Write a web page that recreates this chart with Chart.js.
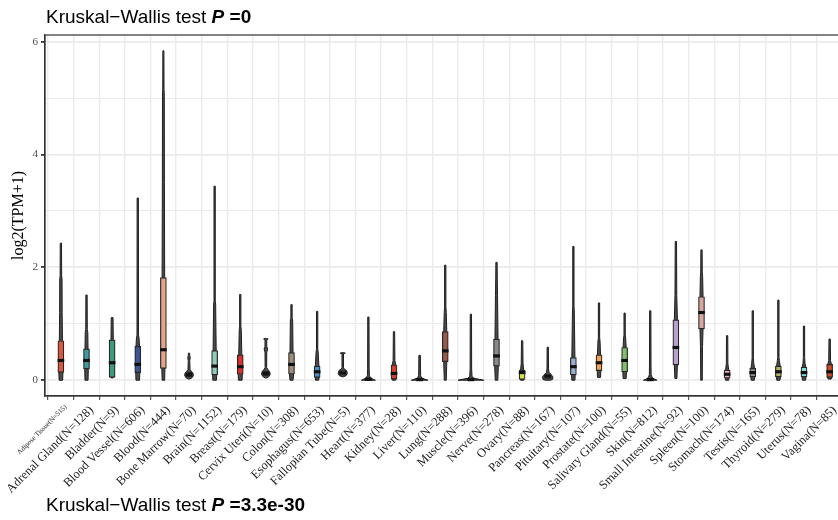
<!DOCTYPE html>
<html><head><meta charset="utf-8">
<script src="https://cdn.jsdelivr.net/npm/chart.js@4/dist/chart.umd.min.js"></script>
<style>html,body{margin:0;padding:0;overflow:hidden;background:#fff}
#c{position:absolute;left:0;top:0}</style></head>
<body><canvas id="c" width="846" height="520"></canvas>
<script>
const tissues = ["Adipose Tissue","Adrenal Gland","Bladder","Blood Vessel","Blood","Bone Marrow","Brain","Breast","Cervix Uteri","Colon","Esophagus","Fallopian Tube","Heart","Kidney","Liver","Lung","Muscle","Nerve","Ovary","Pancreas","Pituitary","Prostate","Salivary Gland","Skin","Small Intestine","Spleen","Stomach","Testis","Thyroid","Uterus","Vagina"];
const counts = [515,128,9,606,444,70,1152,179,10,308,653,5,377,28,110,288,396,278,88,167,107,100,55,812,92,100,174,165,279,78,85];
const q1 =     [0.14,0.20,0.05,0.135,0.21,0.06,0.094,0.105,0.08,0.11,0.05,0.09,0.0,0.02,0.0,0.33,0.0,0.25,0.0,0.03,0.094,0.17,0.15,0.0,0.27,0.91,0.035,0.06,0.06,0.06,0.05];
const median = [0.35,0.35,0.31,0.28,0.54,0.10,0.25,0.24,0.12,0.28,0.15,0.13,0.015,0.12,0.01,0.52,0.01,0.43,0.135,0.07,0.24,0.31,0.35,0.01,0.58,1.20,0.105,0.135,0.15,0.135,0.15];
const q3 =     [0.70,0.555,0.715,0.60,1.82,0.14,0.525,0.45,0.16,0.49,0.25,0.17,0.04,0.27,0.03,0.86,0.03,0.73,0.18,0.11,0.40,0.45,0.58,0.03,1.07,1.48,0.18,0.21,0.25,0.23,0.28];
// violin density outlines: [log2(TPM+1) value, half width in category units]
const violins = [
 [[0,0.07],[0.15,0.08],[0.7,0.06],[1.2,0.05],[1.8,0.045],[1.85,0.03],[2.43,0.025]],
 [[0,0.06],[0.2,0.07],[0.55,0.06],[0.85,0.05],[0.9,0.03],[1.51,0.025]],
 [[0.04,0.04],[0.72,0.045],[1.11,0.035]],
 [[0,0.07],[0.14,0.08],[0.6,0.07],[0.75,0.05],[0.8,0.03],[3.23,0.025]],
 [[0,0.05],[0.21,0.06],[1.82,0.05],[3.5,0.04],[5.1,0.035],[5.15,0.025],[5.84,0.02]],
 [[0.02,0.02],[0.04,0.11],[0.08,0.17],[0.12,0.16],[0.16,0.09],[0.19,0.04],[0.35,0.03],[0.4,0.05],[0.43,0.03],[0.48,0.025]],
 [[0,0.07],[0.1,0.08],[0.52,0.06],[1.35,0.04],[1.4,0.025],[3.44,0.025]],
 [[0,0.07],[0.1,0.08],[0.45,0.06],[0.9,0.04],[0.95,0.025],[1.52,0.025]],
 [[0.04,0.02],[0.06,0.11],[0.1,0.17],[0.15,0.15],[0.19,0.08],[0.22,0.03],[0.5,0.035],[0.55,0.07],[0.6,0.035],[0.72,0.035],[0.73,0.09],[0.74,0.02]],
 [[0,0.06],[0.11,0.08],[0.49,0.06],[1.07,0.045],[1.1,0.025],[1.34,0.025]],
 [[0,0.06],[0.05,0.08],[0.25,0.07],[0.5,0.04],[0.55,0.025],[1.22,0.025]],
 [[0.06,0.02],[0.08,0.13],[0.12,0.18],[0.17,0.15],[0.2,0.06],[0.22,0.03],[0.47,0.03],[0.48,0.1],[0.49,0.02]],
 [[0,0.27],[0.015,0.2],[0.04,0.09],[0.08,0.04],[0.2,0.03],[1.12,0.025]],
 [[0,0.06],[0.02,0.08],[0.27,0.07],[0.35,0.035],[0.86,0.025]],
 [[0,0.32],[0.015,0.22],[0.04,0.08],[0.08,0.04],[0.2,0.035],[0.44,0.03]],
 [[0,0.04],[0.33,0.06],[0.86,0.06],[1.2,0.04],[1.3,0.025],[2.04,0.025]],
 [[0,0.5],[0.015,0.34],[0.035,0.12],[0.07,0.045],[0.2,0.03],[1.17,0.025]],
 [[0,0.05],[0.25,0.07],[0.73,0.06],[1.5,0.04],[1.81,0.03],[2.09,0.025]],
 [[0,0.06],[0.18,0.06],[0.3,0.035],[0.7,0.025]],
 [[0,0.1],[0.015,0.19],[0.06,0.2],[0.1,0.13],[0.14,0.05],[0.2,0.03],[0.585,0.025]],
 [[0,0.06],[0.09,0.07],[0.4,0.06],[1.25,0.035],[1.3,0.025],[2.37,0.025]],
 [[0.05,0.06],[0.17,0.07],[0.45,0.06],[0.7,0.04],[0.75,0.025],[1.37,0.025]],
 [[0.03,0.06],[0.15,0.07],[0.58,0.06],[0.75,0.04],[0.8,0.025],[1.19,0.025]],
 [[0,0.26],[0.015,0.18],[0.05,0.07],[0.1,0.035],[0.25,0.03],[1.23,0.025]],
 [[0.03,0.04],[0.27,0.06],[1.07,0.06],[1.5,0.035],[2.46,0.025]],
 [[0,0.03],[0.6,0.04],[0.91,0.06],[1.48,0.06],[1.84,0.045],[1.9,0.03],[2.31,0.025]],
 [[0,0.06],[0.035,0.07],[0.18,0.06],[0.3,0.03],[0.79,0.025]],
 [[0,0.06],[0.06,0.08],[0.21,0.07],[0.3,0.04],[0.4,0.025],[1.23,0.025]],
 [[0,0.06],[0.06,0.08],[0.25,0.07],[0.35,0.04],[0.4,0.025],[1.42,0.025]],
 [[0,0.06],[0.06,0.08],[0.23,0.07],[0.3,0.04],[0.4,0.025],[0.96,0.025]],
 [[0.02,0.06],[0.05,0.08],[0.28,0.07],[0.35,0.035],[0.73,0.025]]
];
const boxColors = ["#D9583F","#3E9CA0","#3E9C7E","#3B5690","#E5A38A","#8F98B8","#8FCDB8","#D9332A","#7E6650","#A08E78","#4A90D0","#9CA0A8","#999999","#D04030","#A0A0A0","#9A5848","#B0B0B0","#8A8A8A","#D8E048","#6A8A8A","#9AB0D0","#F0A050","#80C068","#C8C8C8","#B8A0CC","#D8A8A0","#F0A8D0","#909090","#B0B060","#80D8D8","#D04828"];
const yTicks = [0,1,2,3,4,5,6];
const titleTop = ["Kruskal\u2212Wallis test ", "P", " =0"];
const titleBottom = ["Kruskal\u2212Wallis test ", "P", " =3.3e-30"];

const xLabels = tissues.map((t,i)=>t+"(N="+counts[i]+")");

const violinPlugin = {
  id:'violins',
  beforeDatasetsDraw(chart){
    const {ctx, scales:{x,y}} = chart;
    const cw = x.getPixelForValue(1)-x.getPixelForValue(0);
    ctx.save();
    violins.forEach((knots,i)=>{
      const cx = x.getPixelForValue(i);
      ctx.beginPath();
      knots.forEach(([v,w],k)=>{ const px=cx+w*cw, py=y.getPixelForValue(v); k?ctx.lineTo(px,py):ctx.moveTo(px,py); });
      for(let k=knots.length-1;k>=0;k--){ const [v,w]=knots[k]; ctx.lineTo(cx-w*cw, y.getPixelForValue(v)); }
      ctx.closePath();
      ctx.fillStyle='#4a4a4a'; ctx.fill();
      ctx.strokeStyle='#1e1e1e'; ctx.lineWidth=1; ctx.lineJoin='round'; ctx.stroke();
    });
    ctx.restore();
  },
  afterDraw(chart){
    const {ctx, chartArea:a} = chart;
    ctx.save();
    ctx.strokeStyle='#333'; ctx.lineWidth=1.2;
    ctx.strokeRect(a.left, a.top, a.right-a.left, a.bottom-a.top);
    const drawTitle=(parts,x0,yb)=>{
      const fonts=['19px "Liberation Sans"','italic bold 19px "Liberation Sans"','bold 19px "Liberation Sans"'];
      let xx=x0; ctx.fillStyle='#000'; ctx.textBaseline='alphabetic'; ctx.textAlign='left';
      parts.forEach((p,k)=>{ ctx.font=fonts[k]; ctx.fillText(p,xx,yb); xx+=ctx.measureText(p).width; });
    };
    drawTitle(titleTop,46,22.5);
    drawTitle(titleBottom,46,511);
    ctx.restore();
  }
};

new Chart(document.getElementById('c'),{
  type:'bar',
  data:{datasets:[
    {data:q1.map((v,i)=>({x:i,y:[v,q3[i]]})), backgroundColor:boxColors, borderColor:'#262626', borderWidth:1.2, borderSkipped:false, barThickness:6, grouped:false, order:2},
    {data:median.map((m,i)=>({x:i,y:[m-0.022,m+0.022]})), backgroundColor:'#111', borderWidth:0, barThickness:6, grouped:false, order:1}
  ]},
  options:{
    responsive:false, animation:false,
    layout:{padding:{left:0,top:35,right:1,bottom:0}},
    plugins:{legend:{display:false},tooltip:{enabled:false}},
    scales:{
      x:{type:'linear', min:-0.62, max:30.6, offset:false,
        afterBuildTicks:s=>{s.ticks=tissues.map((t,i)=>({value:i}));},
        afterFit:s=>{s.height=124; s.paddingLeft=0; s.paddingRight=0;},
        grid:{color:'#EBEBEB', lineWidth:1.4, drawTicks:true, tickLength:4, tickColor:'#333', tickWidth:1},
        border:{display:true,color:'#333',width:1.2},
        ticks:{autoSkip:false, minRotation:45, maxRotation:45, padding:3, labelOffset:5, color:'#222',
          callback:v=>xLabels[v],
          font:c=>({family:'"Liberation Serif"', size: c.index===0?7:12.5})}
      },
      y:{type:'linear', min:-0.28, max:6.12,
        afterBuildTicks:s=>{s.ticks=yTicks.map(v=>({value:v}));},
        afterFit:s=>{s.width=45;},
        grid:{color:'#EBEBEB', lineWidth:c=>c.tick&&c.tick.value%2===0?1.8:1.1, drawTicks:true, tickLength:4,
          tickColor:c=>c.tick&&c.tick.value%2===0?'#333':'rgba(0,0,0,0)'},
        border:{display:true,color:'#333',width:1.2},
        ticks:{color:'#4D4D4D', padding:3, font:{family:'"Liberation Serif"',size:11},
          callback:v=>v%2===0?String(v):''},
        title:{display:true,text:'log2(TPM+1)',color:'#000',font:{family:'"Liberation Serif"',size:16},padding:{top:9,bottom:0}}
      }
    }
  },
  plugins:[violinPlugin]
});
</script></body></html>
